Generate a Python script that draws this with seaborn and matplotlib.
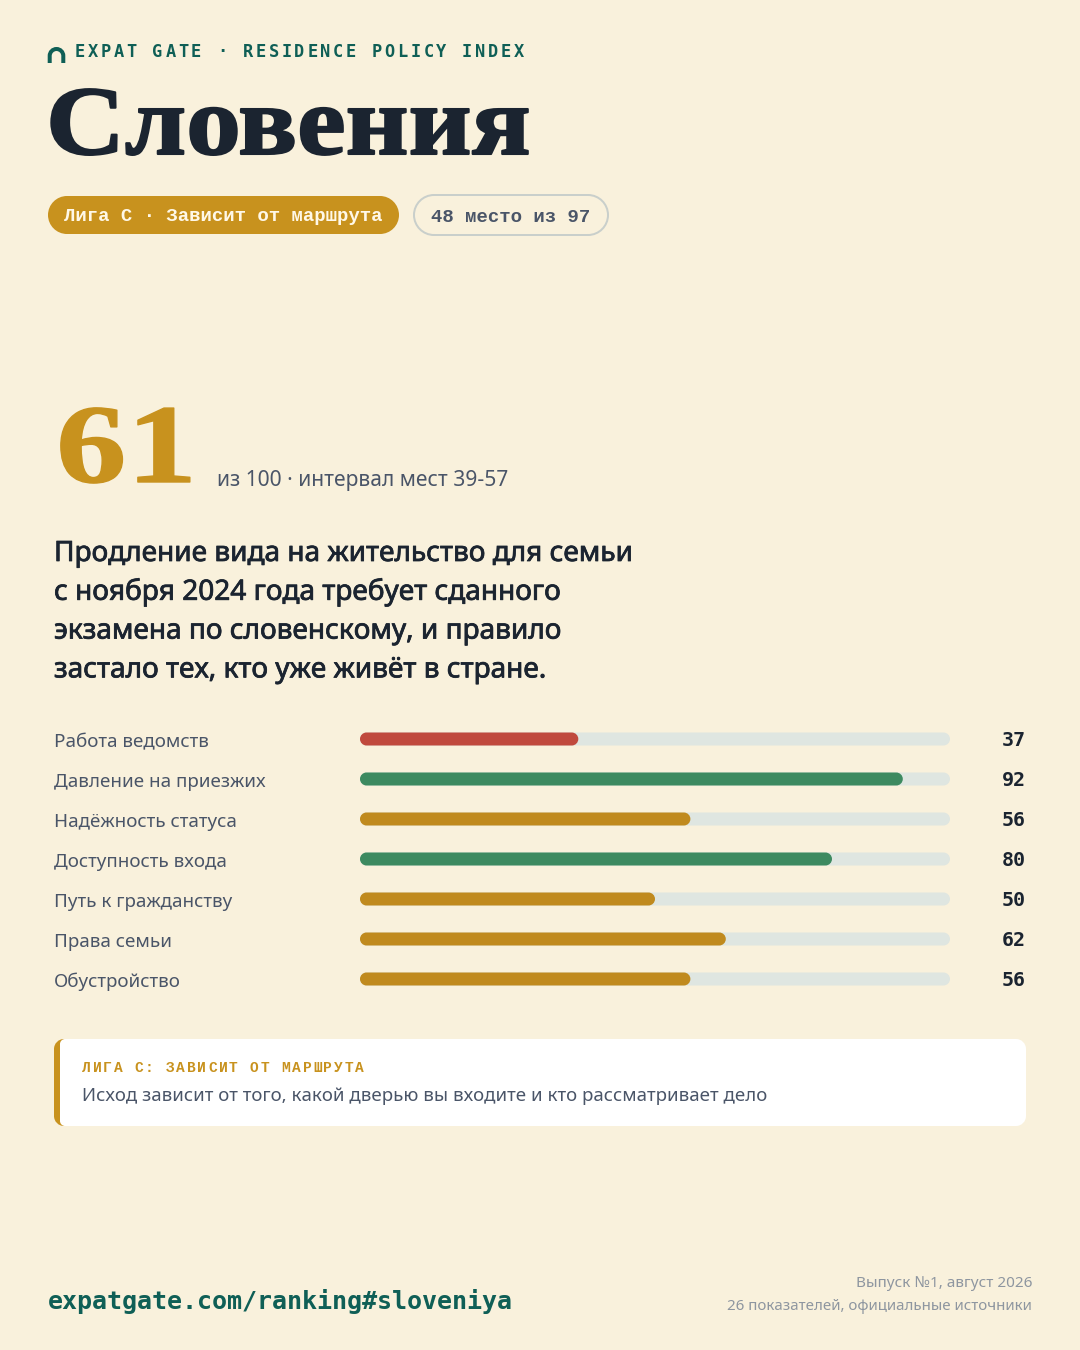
import matplotlib
matplotlib.use("Agg")
import matplotlib.pyplot as plt
import seaborn as sns
import pandas as pd
from matplotlib.patches import FancyBboxPatch, PathPatch
from matplotlib.patheffects import AbstractPathEffect, withStroke
from matplotlib.path import Path
from matplotlib.text import Text
from matplotlib.transforms import Affine2D, blended_transform_factory

categories = ["Работа ведомств", "Давление на приезжих", "Надёжность статуса", "Доступность входа",
              "Путь к гражданству", "Права семьи", "Обустройство"]
values = [37, 92, 56, 80, 50, 62, 56]
bands = ["low", "high", "mid", "high", "mid", "mid", "mid"]
track_max = [100] * 7
band_colors = {"low": "#C0493D", "high": "#3D8A60", "mid": "#C08A1E"}

BG = "#F9F1DC"; TEAL = "#0F5F56"; INK = "#1B2430"; GOLD = "#C8921E"
SLATE = "#4A5568"; MUTED = "#8E96A0"; TRACK = "#DFE6E1"
MONO = "DejaVu Sans Mono"; CYRMONO = "Liberation Mono"; SERIF = "Liberation Serif"; SANS = ["Noto Sans", "DejaVu Sans"]
px = 0.72
K = 0.5523

sns.set_theme(style="white")
fig = plt.figure(figsize=(10.8, 13.5), dpi=100, facecolor=BG)
bgax = fig.add_axes([0, 0, 1, 1]); bgax.set_xlim(0, 1080); bgax.set_ylim(1350, 0); bgax.axis("off")


class SpacedText(Text):
    """Single string drawn with a fixed advance between characters."""
    def __init__(self, x, y, s, advance, **kw):
        super().__init__(x, y, s, **kw)
        self.advance = advance

    def draw(self, renderer):
        full, (x0, y0) = self.get_text(), self.get_position()
        for i, ch in enumerate(full):
            self.set_text(ch); self.set_x(x0 + i * self.advance)
            super().draw(renderer)
        self.set_text(full); self.set_x(x0)


class Widen(AbstractPathEffect):
    """Stretch glyphs horizontally about x0 and thicken them."""
    def __init__(self, sx, x0, stroke):
        super().__init__()
        self.sx, self.x0, self.stroke = sx, x0, stroke

    def draw_path(self, renderer, gc, tpath, affine, rgbFace):
        a = affine + Affine2D().translate(-self.x0, 0).scale(self.sx, 1).translate(self.x0, 0)
        g = renderer.new_gc(); g.copy_properties(gc)
        g.set_foreground(rgbFace); g.set_linewidth(self.stroke); g.set_joinstyle("round")
        renderer.draw_path(g, tpath, a, rgbFace)
        g.restore()


class Rounded:
    """Box style with true circular corners."""
    def __init__(self, r):
        self.r = r

    def __call__(self, x0, y0, w, h, mutation_size):
        r = self.r; c = r * (1 - K); x1, y1 = x0 + w, y0 + h
        verts = [(x0 + r, y0), (x1 - r, y0), (x1 - c, y0), (x1, y0 + c), (x1, y0 + r),
                 (x1, y1 - r), (x1, y1 - c), (x1 - c, y1), (x1 - r, y1),
                 (x0 + r, y1), (x0 + c, y1), (x0, y1 - c), (x0, y1 - r),
                 (x0, y0 + r), (x0, y0 + c), (x0 + c, y0), (x0 + r, y0), (x0 + r, y0)]
        codes = [Path.MOVETO, Path.LINETO, Path.CURVE4, Path.CURVE4, Path.CURVE4,
                 Path.LINETO, Path.CURVE4, Path.CURVE4, Path.CURVE4,
                 Path.LINETO, Path.CURVE4, Path.CURVE4, Path.CURVE4,
                 Path.LINETO, Path.CURVE4, Path.CURVE4, Path.CURVE4, Path.CLOSEPOLY]
        return Path(verts, codes)


def spaced(x, y, s, advance, size, color, family=MONO, **kw):
    t = SpacedText(x, y, s, advance, family=family, fontweight="bold", fontsize=size * px, color=color, va="baseline", **kw)
    bgax.add_artist(t)


def pill(x0, y0, x1, y1, r, **kw):
    bgax.add_patch(FancyBboxPatch((x0, y0), x1 - x0, y1 - y0, boxstyle=Rounded(r), **kw))


# logo arch
ar = 6.8; ax0 = 49.7; ay = 55.8
arch = Path([(ax0, 63), (ax0, ay), (ax0, ay - K * ar), (ax0 + ar - K * ar, ay - ar), (ax0 + ar, ay - ar),
             (ax0 + ar + K * ar, ay - ar), (ax0 + 2 * ar, ay - K * ar), (ax0 + 2 * ar, ay), (ax0 + 2 * ar, 63)],
            [Path.MOVETO, Path.LINETO, Path.CURVE4, Path.CURVE4, Path.CURVE4, Path.CURVE4, Path.CURVE4, Path.CURVE4, Path.LINETO])
bgax.add_patch(PathPatch(arch, fc="none", ec=TEAL, lw=4 * px, capstyle="butt"))
spaced(75, 57, "EXPAT GATE · RESIDENCE POLICY INDEX", 12.9, 17, TEAL)
bgax.text(46, 154, "Словения", family=SERIF, fontweight="bold", fontsize=98 * px, color=INK, va="baseline",
          path_effects=[Widen(1.115, 46, 1.5)])

pill(48, 196, 399, 234, 19, fc=GOLD, ec="none")
bgax.text(64, 221, "Лига С · Зависит от маршрута", family=CYRMONO, fontweight="bold", fontsize=19 * px, color="#FFF8E8", va="baseline")
pill(414, 195, 608, 235, 20, fc="none", ec="#C9CFCB", lw=2 * px)
bgax.text(431, 222, "48 место из 97", family=CYRMONO, fontweight="bold", fontsize=19 * px, color=SLATE, va="baseline")

bgax.text(56, 482, "61", family=SERIF, fontweight="bold", fontsize=112 * px, color=GOLD, va="baseline",
          path_effects=[Widen(1.26, 56, 1.0)])
bgax.text(217, 486, "из 100 · интервал мест 39-57", family=SANS, fontsize=21 * px, color=SLATE, va="baseline")

statement = ["Продление вида на жительство для семьи", "с ноября 2024 года требует сданного",
             "экзамена по словенскому, и правило", "застало тех, кто уже живёт в стране."]
for i, line in enumerate(statement):
    bgax.text(54, 561 + i * 38.8, line, family=SANS, fontsize=28 * px, color=INK, va="baseline",
              path_effects=[withStroke(linewidth=0.55, foreground=INK)])

# score bars: 0-100 over x 360-950 px, one row per 40 px
ax = fig.add_axes([360 / 1080, 1 - 999 / 1350, 590 / 1080, 280 / 1350])
ax.patch.set_alpha(0)
df = pd.DataFrame({"category": categories, "value": values, "band": bands, "track": track_max})
sns.barplot(data=df, x="track", y="category", color=TRACK, saturation=1, width=13 / 40, ax=ax)
n_track = len(ax.patches)
sns.barplot(data=df, x="value", y="category", hue="band", palette=band_colors, saturation=1, width=13 / 40,
            dodge=False, legend=False, ax=ax)
ax.set_xlim(0, 100); ax.set_ylim(6.5, -0.5)
ax.set(xlabel="", ylabel="")
ax.set_xticks([])
sns.despine(ax=ax, left=True, bottom=True)
ax.tick_params(axis="y", length=0, pad=306 * px)
for lab in ax.get_yticklabels():
    lab.set(ha="left", family=SANS, fontsize=18.8 * px, color=SLATE, va="center_baseline")
    lab.set_transform(lab.get_transform() + Affine2D().translate(0, -1))
# round the bar ends
aspect = (1 / 40) / (1 / 5.9)
for i, p in enumerate(list(ax.patches)):
    if p.get_width() <= 0:
        continue
    p.set_visible(False)
    ax.add_patch(FancyBboxPatch((p.get_x(), p.get_y()), p.get_width(), p.get_height(),
                                boxstyle=Rounded(6.5 / 5.9), mutation_aspect=aspect,
                                fc=p.get_facecolor(), ec="none", zorder=2 + (i >= n_track)))
tr = blended_transform_factory(ax.transAxes, ax.transData)
for i, v in enumerate(values):
    ax.text((1026 - 360) / 590, i - 0.02, str(v), transform=tr, family=MONO, fontweight="bold", fontsize=20 * px,
            color=INK, ha="right", va="center_baseline")

# callout
pill(54, 1039, 100, 1126, 10, fc=GOLD, ec="none", zorder=1)
pill(60, 1039, 200, 1126, 5, fc="white", ec="none", zorder=2)
pill(100, 1039, 1026, 1126, 10, fc="white", ec="none", zorder=2)
spaced(82, 1072, "ЛИГА С: ЗАВИСИТ ОТ МАРШРУТА", 10.5, 14.5, GOLD, family=CYRMONO, zorder=3)
bgax.text(82, 1101, "Исход зависит от того, какой дверью вы входите и кто рассматривает дело", family=SANS,
          fontsize=18.7 * px, color=SLATE, va="baseline", zorder=3)

# footer
bgax.text(48, 1309, "expatgate.com/ranking#sloveniya", family=MONO, fontweight="bold", fontsize=25 * px, color=TEAL, va="baseline")
bgax.text(1032, 1287, "Выпуск №1, август 2026", family=SANS, fontsize=15.3 * px, color=MUTED, ha="right", va="baseline")
bgax.text(1032, 1310, "26 показателей, официальные источники", family=SANS, fontsize=15.1 * px, color=MUTED, ha="right", va="baseline")

fig.savefig("out.png", dpi=100, facecolor=BG)
